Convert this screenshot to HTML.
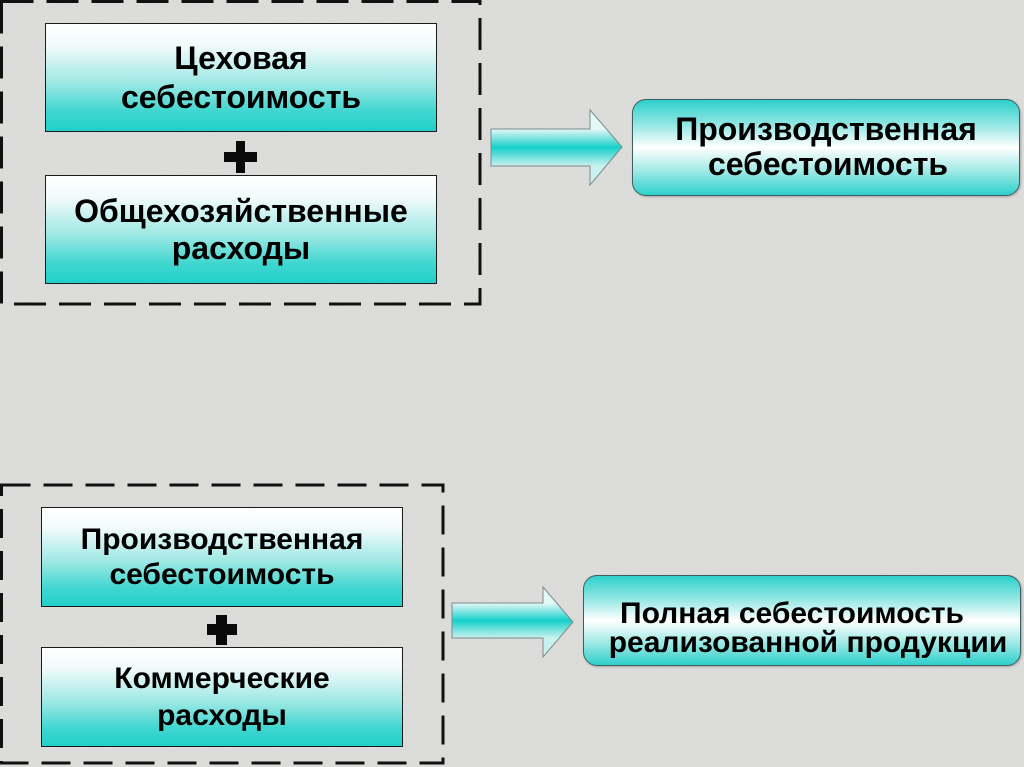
<!DOCTYPE html>
<html>
<head>
<meta charset="utf-8">
<style>
  html,body{margin:0;padding:0;}
  body{width:1024px;height:767px;position:relative;overflow:hidden;background:#dddddb;
    font-family:"Liberation Sans","DejaVu Sans",sans-serif;}
  .abs{position:absolute;}
  .box{position:absolute;box-sizing:border-box;border:1.5px solid #1c1c1c;
    background:linear-gradient(to bottom,#ffffff 0%,#f2fbfb 20%,#9de8e4 55%,#3fd6d0 82%,#22d0ca 100%);
    display:flex;flex-direction:column;align-items:center;justify-content:center;
    font-weight:bold;color:#000;text-align:center;white-space:nowrap;}
  .rbox{position:absolute;box-sizing:border-box;border:1.5px solid #3d5f60;border-radius:14px;
    background:linear-gradient(to bottom,#2dd0cb 0%,#8fe6e2 25%,#ffffff 50%,#9fe9e5 75%,#2dd0cb 100%);
    box-shadow:1px 1px 2px rgba(0,0,0,0.25);}
  .line{position:absolute;font-weight:bold;color:#000;white-space:nowrap;text-align:center;}
  .plus{position:absolute;background:#0a0a0a;}
</style>
</head>
<body>
<svg class="abs" style="left:0;top:0" width="1024" height="767" viewBox="0 0 1024 767">
  <defs>
    <filter id="noise" x="0" y="0" width="100%" height="100%">
      <feTurbulence type="fractalNoise" baseFrequency="0.85" numOctaves="2" seed="7" result="t"/>
      <feColorMatrix in="t" type="matrix" values="0 0 0 0 0.55  0 0 0 0 0.55  0 0 0 0 0.54  1.6 0 0 0 -0.75"/>
    </filter>
    <linearGradient id="ag1" gradientUnits="userSpaceOnUse" x1="0" y1="129" x2="0" y2="166">
      <stop offset="0" stop-color="#e4f8f7"/>
      <stop offset="0.5" stop-color="#16d0ca"/>
      <stop offset="1" stop-color="#c9f1ef"/>
    </linearGradient>
    <linearGradient id="ag2" gradientUnits="userSpaceOnUse" x1="0" y1="603" x2="0" y2="638">
      <stop offset="0" stop-color="#e4f8f7"/>
      <stop offset="0.5" stop-color="#16d0ca"/>
      <stop offset="1" stop-color="#c9f1ef"/>
    </linearGradient>
  </defs>
  <rect x="0" y="0" width="1024" height="767" filter="url(#noise)" opacity="0.55"/>
  <!-- dashed group frames -->
  <rect x="1.5" y="1.5" width="478.5" height="302.5" fill="none" stroke="#111" stroke-width="3" stroke-dasharray="32 13"/>
  <rect x="1.5" y="485" width="441.5" height="278" fill="none" stroke="#111" stroke-width="3" stroke-dasharray="29 13"/>
  <!-- arrows -->
  <polygon points="491,129 590,129 590,110 622,147 590,185 590,166 491,166" fill="url(#ag1)" stroke="#7d8a8a" stroke-width="1"/>
  <polygon points="452,603 543,603 543,587 573,622 543,657 543,638 452,638" fill="url(#ag2)" stroke="#7d8a8a" stroke-width="1"/>
</svg>

<!-- top group -->
<div class="box" style="left:45px;top:23px;width:392px;height:109px;font-size:32px;line-height:39px;">
  <div>Цеховая</div><div>себестоимость</div>
</div>
<div class="plus" style="left:224px;top:152px;width:33px;height:10px;"></div>
<div class="plus" style="left:236px;top:141px;width:9px;height:32px;"></div>
<div class="box" style="left:45px;top:175px;width:392px;height:109px;font-size:32px;line-height:37px;">
  <div>Общехозяйственные</div><div>расходы</div>
</div>

<div class="rbox" style="left:632px;top:99px;width:388px;height:97px;"></div>
<div class="line" style="left:626px;top:112px;width:400px;font-size:32px;line-height:35px;">Производственная</div>
<div class="line" style="left:628px;top:147px;width:400px;font-size:32px;line-height:35px;">себестоимость</div>

<!-- bottom group -->
<div class="box" style="left:41px;top:507px;width:362px;height:100px;font-size:30px;line-height:35px;">
  <div>Производственная</div><div>себестоимость</div>
</div>
<div class="plus" style="left:207px;top:624px;width:30px;height:11px;"></div>
<div class="plus" style="left:216px;top:615px;width:11px;height:30px;"></div>
<div class="box" style="left:41px;top:647px;width:362px;height:100px;font-size:30px;line-height:37px;">
  <div>Коммерческие</div><div>расходы</div>
</div>

<div class="rbox" style="left:583px;top:575px;width:438px;height:91px;"></div>
<div class="line" style="left:592px;top:599px;width:400px;font-size:30px;line-height:30px;">Полная себестоимость</div>
<div class="line" style="left:608px;top:628px;width:400px;font-size:30px;line-height:30px;">реализованной продукции</div>
</body>
</html>
